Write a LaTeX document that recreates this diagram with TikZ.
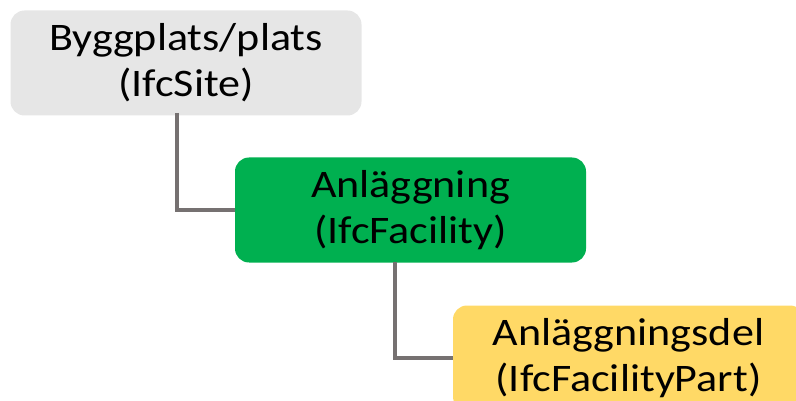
\documentclass[tikz,border=0pt]{standalone}
\usepackage{fontspec}
\setmainfont{Carlito}[FakeStretch=1.13]
\definecolor{sitegray}{HTML}{E6E6E6}
\definecolor{facgreen}{HTML}{00B050}
\definecolor{partyellow}{HTML}{FFD966}
\definecolor{conngray}{HTML}{767171}
\begin{document}
\begin{tikzpicture}[x=1pt,y=-1pt,
  box/.style={rounded corners=14pt, minimum width=351pt, minimum height=105pt, inner sep=0pt, align=center,
    font=\fontsize{39}{46}\selectfont, text=black},
  conn/.style={draw=conngray, line width=4pt}]
\useasboundingbox (0,0) rectangle (796,401);
\clip (0,0) rectangle (796,401);
\node[box, fill=sitegray] (site) at (186,63) {Byggplats/plats\\(IfcSite)};
\node[box, fill=facgreen] (fac) at (410.5,210) {Anläggning\\(IfcFacility)};
\node[box, fill=partyellow] (part) at (628.5,358) {Anläggningsdel\\(IfcFacilityPart)};
\coordinate (c1) at (177,113);
\coordinate (c2) at (395,262);
\draw[conn] (c1) |- (fac.west);
\draw[conn] (c2) |- (part.west);
\end{tikzpicture}
\end{document}
